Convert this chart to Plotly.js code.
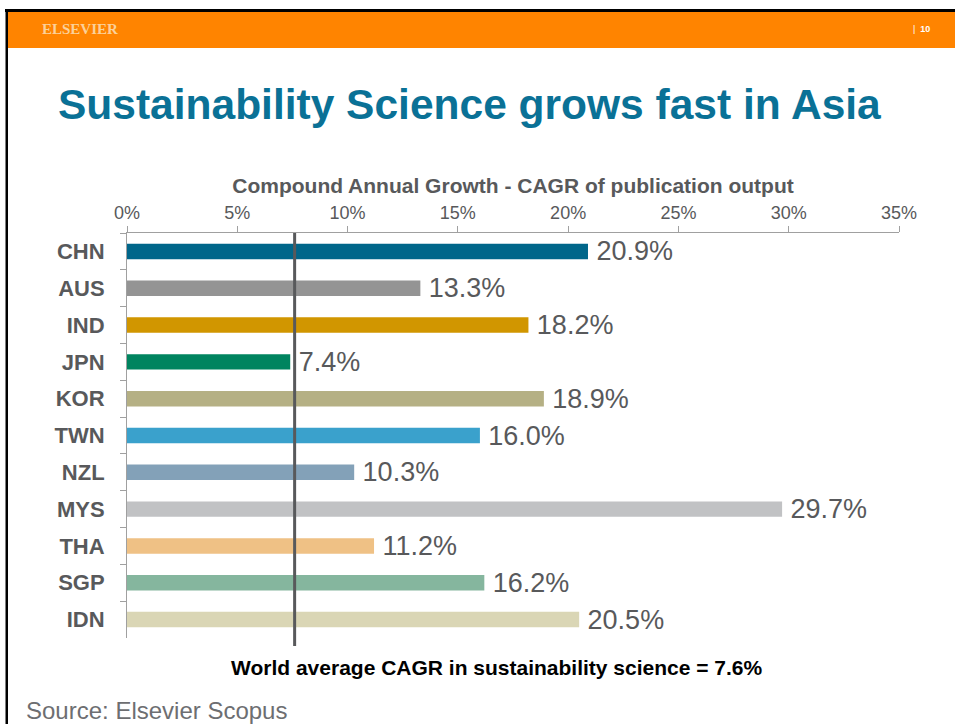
<!DOCTYPE html>
<html>
<head>
<meta charset="utf-8">
<script src="https://cdn.plot.ly/plotly-3.0.1.min.js"></script>
<style>html,body{margin:0;padding:0;background:#fff;}#chart{width:955px;height:724px;}</style>
</head>
<body>
<div id="chart"></div>
<script>
// ---- data ----
var countries = ["CHN","AUS","IND","JPN","KOR","TWN","NZL","MYS","THA","SGP","IDN"];
var cagr = [20.9, 13.3, 18.2, 7.4, 18.9, 16.0, 10.3, 29.7, 11.2, 16.2, 20.5];
var barColors = ["#00668a","#949494","#d19600","#00845f","#b5b084","#3aa1cc","#83a1b8","#c1c2c4","#efc185","#85b69e","#dad6b5"];
var worldAverage = 7.6;
var xTickVals = [0,5,10,15,20,25,30,35];
var xTickText = ["0%","5%","10%","15%","20%","25%","30%","35%"];

var W = 955, H = 724;
var mL = 127, mR = 56, mT = 233, mB = 86;
var pw = W - mL - mR, ph = H - mT - mB;
function px(x){ return (x - mL) / pw; }
function py(y){ return (H - mB - y) / ph; }

var grey = "#58595b";

var trace = {
  type: "bar",
  orientation: "h",
  y: countries,
  x: cagr,
  marker: {color: barColors},
  width: 0.42,
  text: cagr.map(function(v){ return "\u2009" + v.toFixed(1) + "%"; }),
  textposition: "outside",
  constraintext: "none",
  textfont: {family: "Liberation Sans, Arial, sans-serif", size: 27, color: grey},
  cliponaxis: false,
  hoverinfo: "none"
};

var layout = {
  width: W, height: H,
  margin: {l: mL, r: mR, t: mT, b: mB, pad: 0},
  paper_bgcolor: "#ffffff",
  plot_bgcolor: "#ffffff",
  showlegend: false,
  font: {family: "Liberation Sans, Arial, sans-serif", color: grey},
  xaxis: {
    side: "top",
    range: [0, 35],
    tickvals: xTickVals,
    ticktext: xTickText,
    ticks: "outside",
    ticklen: 6,
    tickcolor: "#a0a0a0",
    showline: true,
    linecolor: "#a0a0a0",
    linewidth: 1,
    showgrid: false,
    zeroline: false,
    tickfont: {size: 18, color: grey},
    title: {
      text: "<b>Compound Annual Growth - CAGR of publication output</b>",
      font: {size: 21, color: grey},
      standoff: 3
    }
  },
  yaxis: {
    autorange: "reversed",
    type: "category",
    tickson: "boundaries",
    ticks: "outside",
    ticklen: 6,
    tickcolor: "#a0a0a0",
    showline: true,
    linecolor: "#a0a0a0",
    linewidth: 1,
    showgrid: false,
    zeroline: false,
    ticklabelstandoff: 17,
    tickfont: {size: 22, color: grey, weight: "bold"}
  },
  shapes: [
    // header band
    {type: "rect", xref: "paper", yref: "paper", x0: px(6), x1: px(960), y0: py(48), y1: py(11.5), fillcolor: "#ff8400", line: {width: 0}, layer: "below"},
    // top black rule
    {type: "rect", xref: "paper", yref: "paper", x0: px(5), x1: px(960), y0: py(12), y1: py(9), fillcolor: "#000000", line: {width: 0}},
    // left black rule
    {type: "rect", xref: "paper", yref: "paper", x0: px(5.5), x1: px(8), y0: py(730), y1: py(9), fillcolor: "#000000", line: {width: 0}},
    // world average line
    {type: "line", xref: "x", yref: "paper", x0: worldAverage, x1: worldAverage, y0: py(646), y1: 1, line: {color: grey, width: 3}}
  ],
  annotations: [
    {xref: "paper", yref: "paper", x: px(40), y: py(29), xanchor: "left", yanchor: "middle", showarrow: false,
     text: "<b>ELSEVIER</b>", font: {family: "Liberation Serif, Times New Roman, serif", size: 15, color: "#fbd19a"}},
    {xref: "paper", yref: "paper", x: px(932), y: py(29), xanchor: "right", yanchor: "middle", showarrow: false,
     text: "|  <b>10</b>", font: {family: "Liberation Sans, Arial, sans-serif", size: 9, color: "#ffffff"}},
    {xref: "paper", yref: "paper", x: px(56), y: py(104), xanchor: "left", yanchor: "middle", showarrow: false,
     text: "<b>Sustainability Science grows fast in Asia</b>", font: {family: "Liberation Sans, Arial, sans-serif", size: 42.5, color: "#0a7196"}},
    {xref: "paper", yref: "paper", x: px(497), y: py(667), xanchor: "center", yanchor: "middle", showarrow: false,
     text: "<b>World average CAGR in sustainability science = 7.6%</b>", font: {family: "Liberation Sans, Arial, sans-serif", size: 21, color: "#000000"}},
    {xref: "paper", yref: "paper", x: px(24), y: py(710), xanchor: "left", yanchor: "middle", showarrow: false,
     text: "Source: Elsevier Scopus", font: {family: "Liberation Sans, Arial, sans-serif", size: 24, color: "#6d6e71"}}
  ]
};

Plotly.newPlot("chart", [trace], layout, {displayModeBar: false, staticPlot: true});
</script>
</body>
</html>
